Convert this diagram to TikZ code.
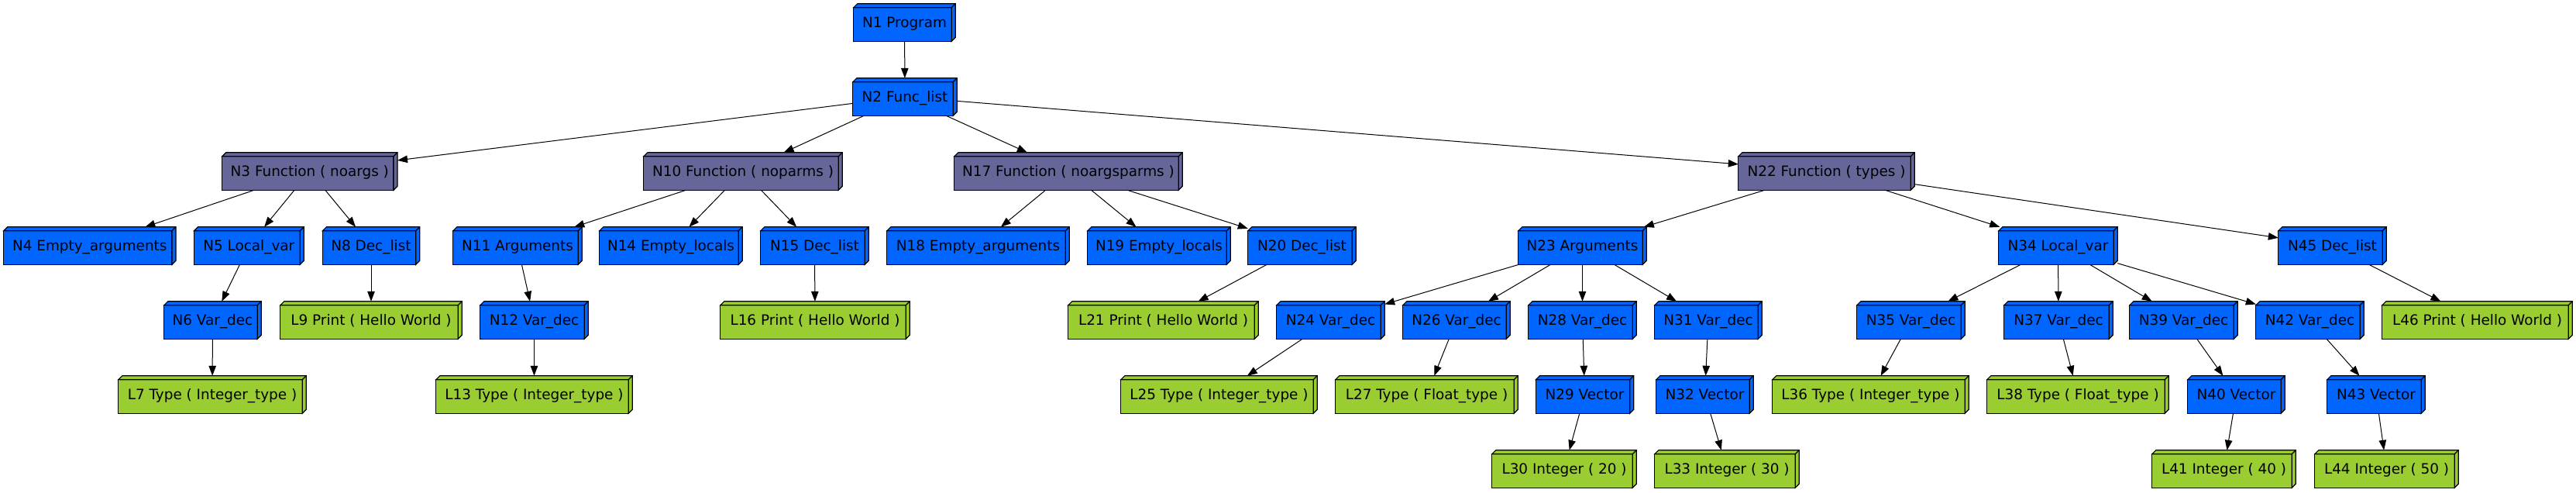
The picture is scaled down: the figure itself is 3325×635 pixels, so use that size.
\documentclass[tikz,border=0pt]{standalone}
\usepackage{fontspec}
\setmainfont{DejaVu Sans}
\usetikzlibrary{arrows.meta,backgrounds}

\definecolor{nodeblue}{RGB}{0,102,255}
\definecolor{funcgray}{RGB}{102,102,153}
\definecolor{leafgreen}{RGB}{154,205,50}

\tikzset{
    astnode/.style={minimum height=48pt, inner sep=0pt, text height=14pt, text depth=2pt,
        font=\fontsize{18.4}{22}\selectfont},
    astlink/.style={line width=1pt, -{Triangle[length=13pt, width=9.5pt]}},
}

% 3d box behind a node (front face + top and right faces)
\newcommand{\boxthree}[2]{%
    \filldraw[line width=1.2pt, fill=#2] (#1.south west) rectangle ([shift={(-5pt,-5pt)}]#1.north east);
    \filldraw[line width=1.2pt, fill=#2]
        ([shift={(0pt,-5pt)}]#1.north west) -- ([shift={(5pt,0pt)}]#1.north west) --
        (#1.north east) -- ([shift={(0pt,5pt)}]#1.south east) --
        ([shift={(-5pt,0pt)}]#1.south east) -- ([shift={(-5pt,-5pt)}]#1.north east) -- cycle;
    \draw[line width=1.2pt] ([shift={(-5pt,-5pt)}]#1.north east) -- (#1.north east);
}

\begin{document}
\begin{tikzpicture}[x=1pt, y=-1pt]

    \useasboundingbox (0,0) rectangle (3325,635);

    % === ROW 1 / ROW 2 ===
    \node[astnode, minimum width=131pt] (n1) at (1167.5,29) {N1 Program};
    \node[astnode, minimum width=134pt] (n2) at (1168,125) {N2 Func\_list};

    % === ROW 3: FUNCTIONS ===
    \node[astnode, minimum width=226pt] (n3) at (399.8,221) {N3 Function ( noargs )};
    \node[astnode, minimum width=256pt] (n10) at (959,221) {N10 Function ( noparms )};
    \node[astnode, minimum width=294pt] (n17) at (1379,221) {N17 Function ( noargsparms )};
    \node[astnode, minimum width=227pt] (n22) at (2357.5,221) {N22 Function ( types )};

    % === ROW 4 ===
    \node[astnode, minimum width=222pt] (n4) at (115.8,317) {N4 Empty\_arguments};
    \node[astnode, minimum width=141.5pt] (n5) at (321.3,317) {N5 Local\_var};
    \node[astnode, minimum width=125pt] (n8) at (479,317) {N8 Dec\_list};
    \node[astnode, minimum width=166pt] (n11) at (668,317) {N11 Arguments};
    \node[astnode, minimum width=184pt] (n14) at (866,317) {N14 Empty\_locals};
    \node[astnode, minimum width=139pt] (n15) at (1051.5,317) {N15 Dec\_list};
    \node[astnode, minimum width=235pt] (n18) at (1262.5,317) {N18 Empty\_arguments};
    \node[astnode, minimum width=184pt] (n19) at (1496,317) {N19 Empty\_locals};
    \node[astnode, minimum width=139pt] (n20) at (1680.5,317) {N20 Dec\_list};
    \node[astnode, minimum width=165pt] (n23) at (2042.5,317) {N23 Arguments};
    \node[astnode, minimum width=153pt] (n34) at (2656.5,317) {N34 Local\_var};
    \node[astnode, minimum width=139pt] (n45) at (3010.5,317) {N45 Dec\_list};

    % === ROW 5 ===
    \node[astnode, minimum width=125pt] (n6) at (274.5,413) {N6 Var\_dec};
    \node[astnode, minimum width=234pt] (l9) at (479,413) {L9 Print ( Hello World )};
    \node[astnode, minimum width=139pt] (n12) at (689.5,413) {N12 Var\_dec};
    \node[astnode, minimum width=244pt] (l16) at (1052,413) {L16 Print ( Hello World )};
    \node[astnode, minimum width=245pt] (l21) at (1501.5,413) {L21 Print ( Hello World )};
    \node[astnode, minimum width=139pt] (n24) at (1717.5,413) {N24 Var\_dec};
    \node[astnode, minimum width=138pt] (n26) at (1880,413) {N26 Var\_dec};
    \node[astnode, minimum width=139pt] (n28) at (2042.5,413) {N28 Var\_dec};
    \node[astnode, minimum width=138pt] (n31) at (2205,413) {N31 Var\_dec};
    \node[astnode, minimum width=139pt] (n35) at (2466.5,413) {N35 Var\_dec};
    \node[astnode, minimum width=140pt] (n37) at (2657,413) {N37 Var\_dec};
    \node[astnode, minimum width=139pt] (n39) at (2818.5,413) {N39 Var\_dec};
    \node[astnode, minimum width=139pt] (n42) at (2981.5,413) {N42 Var\_dec};
    \node[astnode, minimum width=245pt] (l46) at (3197.5,413) {L46 Print ( Hello World )};

    % === ROW 6 ===
    \node[astnode, minimum width=242pt] (l7) at (274,509) {L7 Type ( Integer\_type )};
    \node[astnode, minimum width=253pt] (l13) at (689.5,509) {L13 Type ( Integer\_type )};
    \node[astnode, minimum width=253pt] (l25) at (1573.5,509) {L25 Type ( Integer\_type )};
    \node[astnode, minimum width=235pt] (l27) at (1841.5,509) {L27 Type ( Float\_type )};
    \node[astnode, minimum width=126pt] (n29) at (2045.5,509) {N29 Vector};
    \node[astnode, minimum width=125pt] (n32) at (2200.5,509) {N32 Vector};
    \node[astnode, minimum width=253pt] (l36) at (2414.5,509) {L36 Type ( Integer\_type )};
    \node[astnode, minimum width=234pt] (l38) at (2682,509) {L38 Type ( Float\_type )};
    \node[astnode, minimum width=125pt] (n40) at (2886.5,509) {N40 Vector};
    \node[astnode, minimum width=126pt] (n43) at (3067,509) {N43 Vector};

    % === ROW 7 ===
    \node[astnode, minimum width=186pt] (l30) at (2019,605) {L30 Integer ( 20 )};
    \node[astnode, minimum width=186pt] (l33) at (2229,605) {L33 Integer ( 30 )};
    \node[astnode, minimum width=185pt] (l41) at (2870.5,605) {L41 Integer ( 40 )};
    \node[astnode, minimum width=185pt] (l44) at (3080.5,605) {L44 Integer ( 50 )};

    % === BOXES (behind the labels) ===
    \begin{scope}[on background layer]
        \foreach \n in {n1,n2,n4,n5,n8,n11,n14,n15,n18,n19,n20,n23,n34,n45,
                        n6,n12,n24,n26,n28,n31,n35,n37,n39,n42,n29,n32,n40,n43}
            \boxthree{\n}{nodeblue};
        \foreach \n in {n3,n10,n17,n22}
            \boxthree{\n}{funcgray};
        \foreach \n in {l9,l16,l21,l46,l7,l13,l25,l27,l36,l38,l30,l33,l41,l44}
            \boxthree{\n}{leafgreen};
    \end{scope}

    % === EDGES ===
    \draw[astlink] (n1) -- (n2);
    \foreach \m in {n3,n10,n17,n22}
        \draw[astlink] (n2) -- (\m);

    % noargs
    \foreach \m in {n4,n5,n8}
        \draw[astlink] (n3) -- (\m);
    \draw[astlink] (n5) -- (n6);
    \draw[astlink] (n6) -- (l7);
    \draw[astlink] (n8) -- (l9);

    % noparms
    \foreach \m in {n11,n14,n15}
        \draw[astlink] (n10) -- (\m);
    \draw[astlink] (n11) -- (n12);
    \draw[astlink] (n12) -- (l13);
    \draw[astlink] (n15) -- (l16);

    % noargsparms
    \foreach \m in {n18,n19,n20}
        \draw[astlink] (n17) -- (\m);
    \draw[astlink] (n20) -- (l21);

    % types
    \foreach \m in {n23,n34,n45}
        \draw[astlink] (n22) -- (\m);
    \foreach \m in {n24,n26,n28,n31}
        \draw[astlink] (n23) -- (\m);
    \draw[astlink] (n24) -- (l25);
    \draw[astlink] (n26) -- (l27);
    \draw[astlink] (n28) -- (n29);
    \draw[astlink] (n29) -- (l30);
    \draw[astlink] (n31) -- (n32);
    \draw[astlink] (n32) -- (l33);
    \foreach \m in {n35,n37,n39,n42}
        \draw[astlink] (n34) -- (\m);
    \draw[astlink] (n35) -- (l36);
    \draw[astlink] (n37) -- (l38);
    \draw[astlink] (n39) -- (n40);
    \draw[astlink] (n40) -- (l41);
    \draw[astlink] (n42) -- (n43);
    \draw[astlink] (n43) -- (l44);
    \draw[astlink] (n45) -- (l46);

\end{tikzpicture}
\end{document}
